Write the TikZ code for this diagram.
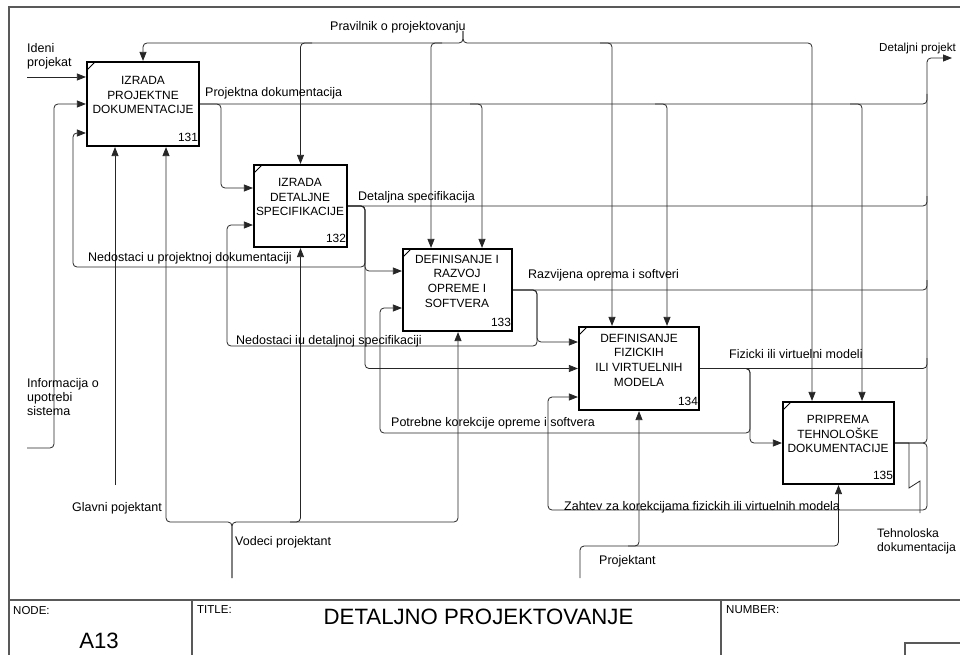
\documentclass[tikz,border=0pt]{standalone}
\usepackage{fontspec}
\setmainfont{Liberation Sans}
\usetikzlibrary{arrows.meta}
\begin{document}
\begin{tikzpicture}[x=1pt,y=-1pt,
  con/.style={line width=0.8pt, draw=black!85, rounded corners=4pt},
  arr/.style={con, -{Triangle[length=9pt,width=7pt]}},
  frameline/.style={line width=1.3pt, draw=black!65},
  box/.style={draw, line width=2.2pt, inner sep=0pt, fill=white,
    path picture={\draw[line width=0.8pt] ([yshift=-8pt]path picture bounding box.north west) -- ([xshift=8pt]path picture bounding box.north west);}},
  boxtext/.style={font=\fontsize{11.9}{14.7}\selectfont, align=center, inner sep=0pt},
  num/.style={font=\fontsize{11.9}{13}\selectfont, inner sep=0pt, anchor=south east},
  lbl/.style={font=\fontsize{12.5}{14.2}\selectfont, align=left, inner sep=0pt, anchor=west},
  small/.style={font=\fontsize{11.5}{12}\selectfont, inner sep=0pt, anchor=west},
  big/.style={font=\fontsize{22.2}{24}\selectfont, inner sep=0pt}]
\useasboundingbox (0,0) rectangle (960,655);

% helper coordinates
\foreach \v in {77,133,188,225,271,308,342,397} \coordinate (y\v) at (0,\v);
\foreach \v in {115,166,431,458,482,612,667,812,862} \coordinate (x\v) at (\v,0);

% frame
\draw[frameline] (9,655) -- (9,7) -- (960,7);
\draw[frameline] (9,600) -- (960,600);
\draw[frameline] (192,600) -- (192,655);
\draw[frameline] (721,600) -- (721,655);
\draw[frameline] (905,655) -- (905,643) -- (960,643);
\node[small] (nodelbl) at (13,611) {NODE:};
\node[small] (titlelbl) at (197,610) {TITLE:};
\node[small] (numlbl) at (726,610) {NUMBER:};
\node[big] (title) at (478.5,617) {DETALJNO PROJEKTOVANJE};
\node[big] (a13) at (99,641) {A13};

% boxes
\node[box, minimum width=112, minimum height=84] (b131) at (143,104) {};
\node[box, minimum width=93, minimum height=82] (b132) at (300.5,206) {};
\node[box, minimum width=109, minimum height=82] (b133) at (457.5,290) {};
\node[box, minimum width=120, minimum height=83] (b134) at (639,368.5) {};
\node[box, minimum width=111, minimum height=82] (b135) at (838.5,443) {};

\node[boxtext] (t131) at (143,95) {IZRADA\\PROJEKTNE\\DOKUMENTACIJE};
\node[boxtext] (t132) at (300,197) {IZRADA\\DETALJNE\\SPECIFIKACIJE};
\node[boxtext] (t133) at (457,281) {DEFINISANJE I\\RAZVOJ\\OPREME I\\SOFTVERA};
\node[boxtext] (t134) at (639,360) {DEFINISANJE\\FIZICKIH\\ILI VIRTUELNIH\\MODELA};
\node[boxtext] (t135) at (838,434) {PRIPREMA\\TEHNOLOŠKE\\DOKUMENTACIJE};

\node[num] (n131) at ([shift={(-2,-5)}]b131.south east) {131};
\node[num] (n132) at ([shift={(-2,-5)}]b132.south east) {132};
\node[num] (n133) at ([shift={(-2,-5)}]b133.south east) {133};
\node[num] (n134) at ([shift={(-2,-5)}]b134.south east) {134};
\node[num] (n135) at ([shift={(-2,-5)}]b135.south east) {135};

% free ends
\coordinate (in1) at (27,77);
\coordinate (in2) at (27,448);
\coordinate (ctl) at (463,31);
\coordinate (mec1) at (115,485);
\coordinate (mec2) at (232,578);
\coordinate (mec3) at (580,578);
\coordinate (out1) at (952,58);
\coordinate (out2) at (920,513);

% Pravilnik o projektovanju
\draw[arr] (ctl) -- (463,43) -- (143,43) -- (b131.north);
\draw[arr] (ctl) -- (463,43) -- (812,43) -- (x812 |- b135.north);
\draw[arr] (312,43) -- (300.5,43) -- (b132.north);
\draw[arr] (442,43) -- (431,43) -- (x431 |- b133.north);
\draw[arr] (600,43) -- (612,43) -- (x612 |- b134.north);

% Projektna dokumentacija
\draw[con] (b131.east) -- (927,104) -- (927,94);
\draw[arr] (b131.east) -- (221,104) -- (221,188) -- (b132.west |- y188);
\draw[arr] (470,104) -- (482,104) -- (x482 |- b133.north);
\draw[arr] (655,104) -- (667,104) -- (x667 |- b134.north);
\draw[arr] (850,104) -- (862,104) -- (x862 |- b135.north);

% Detaljna specifikacija
\draw[con] (b132.east) -- (927,206) -- (927,196);
\draw[arr] (b132.east) -- (365,206) -- (365,271) -- (b133.west |- y271);
\draw[arr] (b132.east) -- (365,206) -- (365,368.5) -- (b134.west);
\draw[arr] (b132.east) -- (365,206) -- (365,267) -- (73,267) -- (73,133) -- (b131.west |- y133);

% Razvijena oprema i softveri
\draw[con] (b133.east) -- (927,290) -- (927,280);
\draw[arr] (b133.east) -- (537,290) -- (537,342) -- (b134.west |- y342);
\draw[arr] (b133.east) -- (537,290) -- (537,346) -- (227,346) -- (227,225) -- (b132.west |- y225);

% Fizicki ili virtuelni modeli
\draw[con] (b134.east) -- (927,368.5) -- (927,358);
\draw[arr] (b134.east) -- (750,368.5) -- (750,443) -- (b135.west);
\draw[arr] (b134.east) -- (750,368.5) -- (750,433) -- (380,433) -- (380,308) -- (b133.west |- y308);

% Box 135 outputs
\draw[arr] (b135.east) -- (927,443) -- (927,58) -- (out1);
\draw[arr] (b135.east) -- (927,443) -- (927,510) -- (548,510) -- (548,397) -- (b134.west |- y397);
\draw[con, sharp corners] (b135.east) -- (909,443) -- (909,488) -- (920,481) -- (out2);

% inputs
\draw[arr] (in1) -- (b131.west |- y77);
\draw[arr] (in2) -- (54,448) -- (54,104) -- (b131.west);

% mechanisms
\draw[arr] (mec1) -- (x115 |- b131.south);
\draw[arr] (mec2) -- (232,522) -- (166,522) -- (x166 |- b131.south);
\draw[arr] (mec2) -- (232,522) -- (458,522) -- (x458 |- b133.south);
\draw[arr] (290,522) -- (300.5,522) -- (b132.south);
\draw[arr] (mec3) -- (580,546) -- (838.5,546) -- (b135.south);
\draw[arr] (628,546) -- (639,546) -- (b134.south);

% labels
\node[lbl] (l1) at (27,56) {Ideni\\projekat};
\node[lbl] (l2) at (27,397) {Informacija o\\upotrebi\\sistema};
\node[lbl] (l3) at (72,508) {Glavni pojektant};
\node[lbl] (l4) at (235,542) {Vodeci projektant};
\node[lbl] (l5) at (599,561) {Projektant};
\node[lbl, font=\fontsize{12.2}{14}\selectfont] (l6) at (877,541.5) {Tehnoloska\\dokumentacija};
\node[lbl, font=\fontsize{11.6}{14}\selectfont] (l7) at (879,49) {Detaljni projekt};
\node[lbl] (l8) at (330,27) {Pravilnik o projektovanju};
\node[lbl] (l9) at (205,93) {Projektna dokumentacija};
\node[lbl] (l10) at (358,197) {Detaljna specifikacija};
\node[lbl] (l11) at (88,258) {Nedostaci u projektnoj dokumentaciji};
\node[lbl] (l12) at (528,275) {Razvijena oprema i softveri};
\node[lbl] (l13) at (236,341) {Nedostaci iu detaljnoj specifikaciji};
\node[lbl] (l14) at (729,354) {Fizicki ili virtuelni modeli};
\node[lbl] (l15) at (391,423) {Potrebne korekcije opreme i softvera};
\node[lbl] (l16) at (564,507) {Zahtev za korekcijama fizickih ili virtuelnih modela};
\end{tikzpicture}
\end{document}
